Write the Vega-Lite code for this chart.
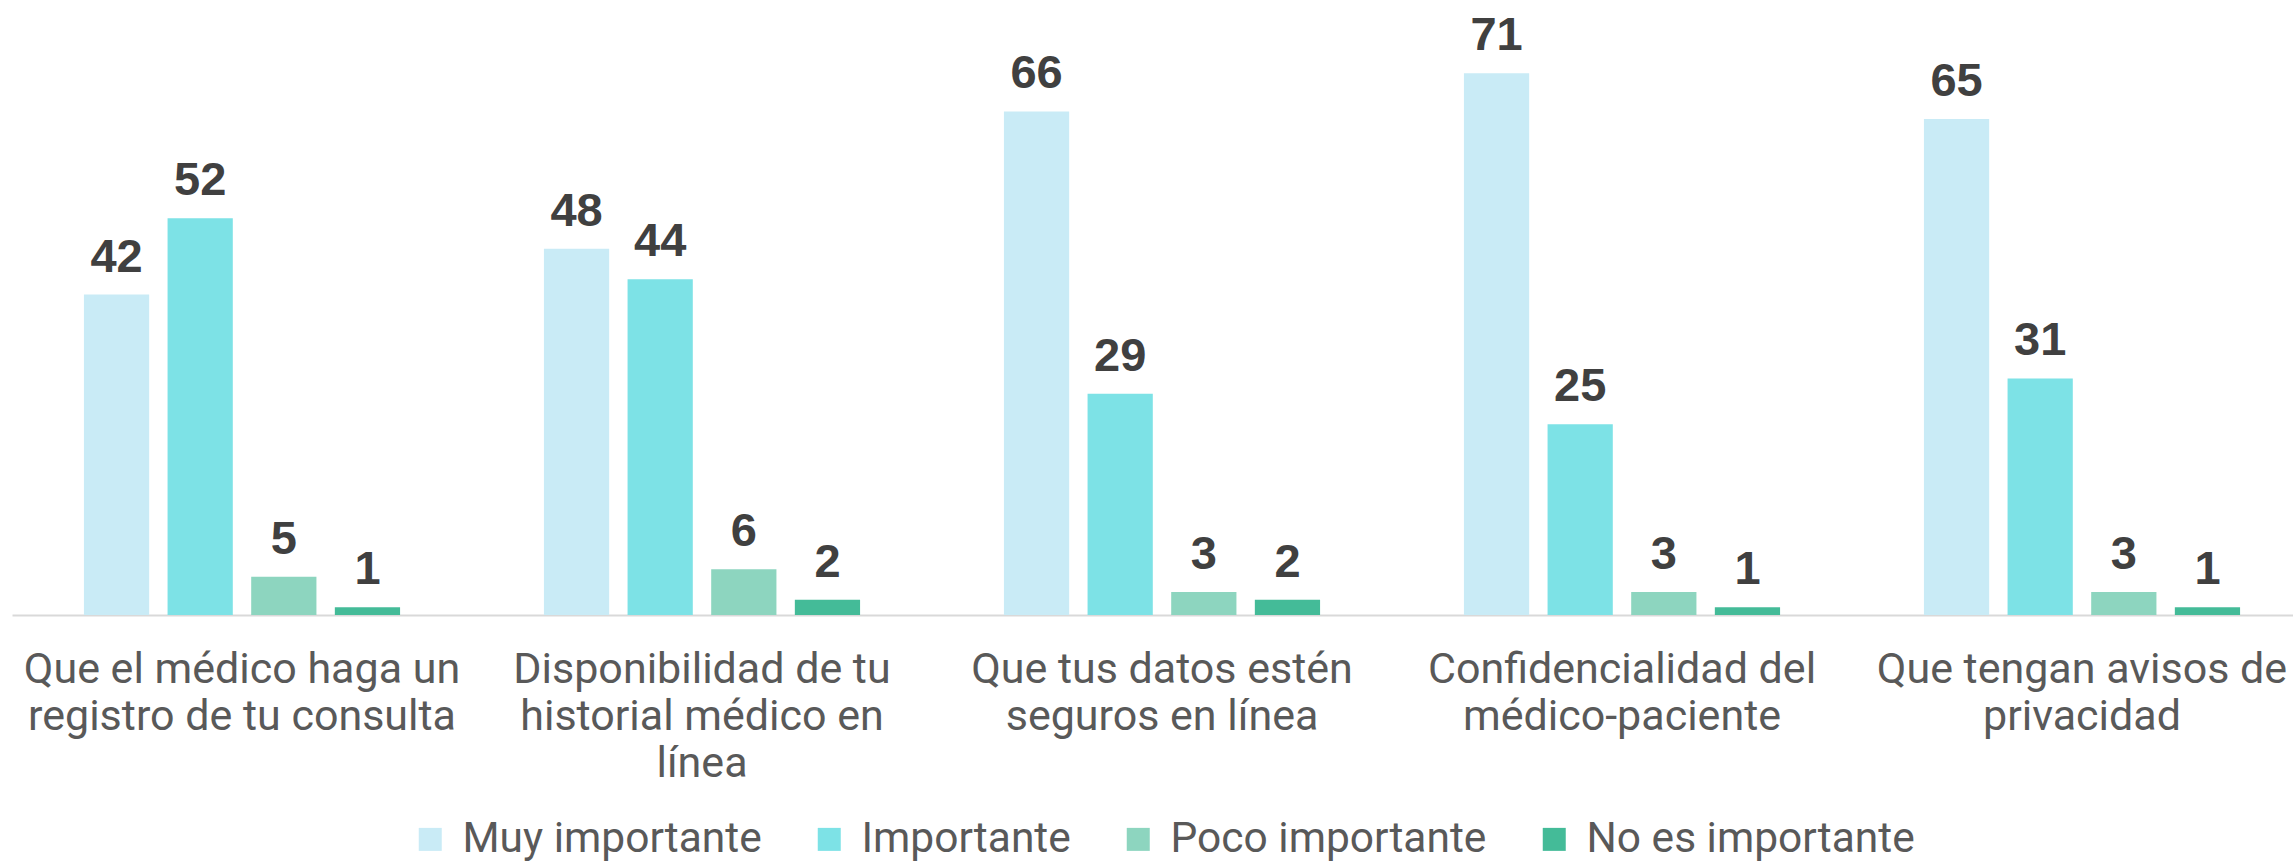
{
  "$schema": "https://vega.github.io/schema/vega-lite/v6.json",
  "autosize": {"type": "none"},
  "padding": {"left": 12, "top": 0, "right": 0, "bottom": 246},
  "width": 2281,
  "height": 615,
  "background": "white",
  "config": {"view": {"stroke": null}},
  "data": {"values": [
    {"aspecto": "Que el médico haga un registro de tu consulta", "nivel": "Muy importante", "valor": 42},
    {"aspecto": "Que el médico haga un registro de tu consulta", "nivel": "Importante", "valor": 52},
    {"aspecto": "Que el médico haga un registro de tu consulta", "nivel": "Poco importante", "valor": 5},
    {"aspecto": "Que el médico haga un registro de tu consulta", "nivel": "No es importante", "valor": 1},
    {"aspecto": "Disponibilidad de tu historial médico en línea", "nivel": "Muy importante", "valor": 48},
    {"aspecto": "Disponibilidad de tu historial médico en línea", "nivel": "Importante", "valor": 44},
    {"aspecto": "Disponibilidad de tu historial médico en línea", "nivel": "Poco importante", "valor": 6},
    {"aspecto": "Disponibilidad de tu historial médico en línea", "nivel": "No es importante", "valor": 2},
    {"aspecto": "Que tus datos estén seguros en línea", "nivel": "Muy importante", "valor": 66},
    {"aspecto": "Que tus datos estén seguros en línea", "nivel": "Importante", "valor": 29},
    {"aspecto": "Que tus datos estén seguros en línea", "nivel": "Poco importante", "valor": 3},
    {"aspecto": "Que tus datos estén seguros en línea", "nivel": "No es importante", "valor": 2},
    {"aspecto": "Confidencialidad del médico-paciente", "nivel": "Muy importante", "valor": 71},
    {"aspecto": "Confidencialidad del médico-paciente", "nivel": "Importante", "valor": 25},
    {"aspecto": "Confidencialidad del médico-paciente", "nivel": "Poco importante", "valor": 3},
    {"aspecto": "Confidencialidad del médico-paciente", "nivel": "No es importante", "valor": 1},
    {"aspecto": "Que tengan avisos de privacidad", "nivel": "Muy importante", "valor": 65},
    {"aspecto": "Que tengan avisos de privacidad", "nivel": "Importante", "valor": 31},
    {"aspecto": "Que tengan avisos de privacidad", "nivel": "Poco importante", "valor": 3},
    {"aspecto": "Que tengan avisos de privacidad", "nivel": "No es importante", "valor": 1}
  ]},
  "encoding": {
    "x": {
      "field": "aspecto", "type": "nominal", "sort": null,
      "scale": {"paddingInner": 0, "paddingOuter": 0, "range": [0, 2300]},
      "axis": {
        "title": null, "labelAngle": 0, "ticks": false,
        "domainColor": "#d9d9d9", "domainWidth": 2,
        "labelFont": "Roboto", "labelFontSize": 43, "labelColor": "#595959",
        "labelBaseline": "top", "labelPadding": 33, "labelLineHeight": 47,
        "labelLimit": 0,
        "labelExpr": "datum.value == 'Que el médico haga un registro de tu consulta' ? ['Que el médico haga un', 'registro de tu consulta'] : datum.value == 'Disponibilidad de tu historial médico en línea' ? ['Disponibilidad de tu', 'historial médico en', 'línea'] : datum.value == 'Que tus datos estén seguros en línea' ? ['Que tus datos estén', 'seguros en línea'] : datum.value == 'Confidencialidad del médico-paciente' ? ['Confidencialidad del', 'médico-paciente'] : ['Que tengan avisos de', 'privacidad']"
      }
    },
    "xOffset": {
      "field": "nivel", "type": "nominal", "sort": ["Muy importante", "Importante", "Poco importante", "No es importante"],
      "scale": {"paddingInner": 0.22, "paddingOuter": 0.86}
    },
    "y": {
      "field": "valor", "type": "quantitative",
      "scale": {"domain": [0, 80.6], "nice": false},
      "axis": null
    }
  },
  "layer": [
    {
      "mark": {"type": "bar"},
      "encoding": {
        "color": {
          "field": "nivel", "type": "nominal",
          "sort": ["Muy importante", "Importante", "Poco importante", "No es importante"],
          "scale": {
            "domain": ["Muy importante", "Importante", "Poco importante", "No es importante"],
            "range": ["#C9EBF6", "#7DE2E6", "#8DD5BF", "#44BB98"]
          },
          "legend": {
            "title": null, "orient": "none", "direction": "horizontal",
            "legendX": 397, "legendY": 818,
            "symbolType": "square", "symbolSize": 529, "symbolStrokeWidth": 0,
            "labelFont": "Roboto", "labelFontSize": 42.5, "labelColor": "#595959",
            "labelOffset": 11, "columnPadding": 46, "labelLimit": 0
          }
        }
      }
    },
    {
      "mark": {"type": "text", "baseline": "alphabetic", "dy": -23, "font": "Liberation Sans", "fontWeight": "bold", "fontSize": 47, "color": "#404040"},
      "encoding": {"text": {"field": "valor", "type": "quantitative"}}
    }
  ]
}
